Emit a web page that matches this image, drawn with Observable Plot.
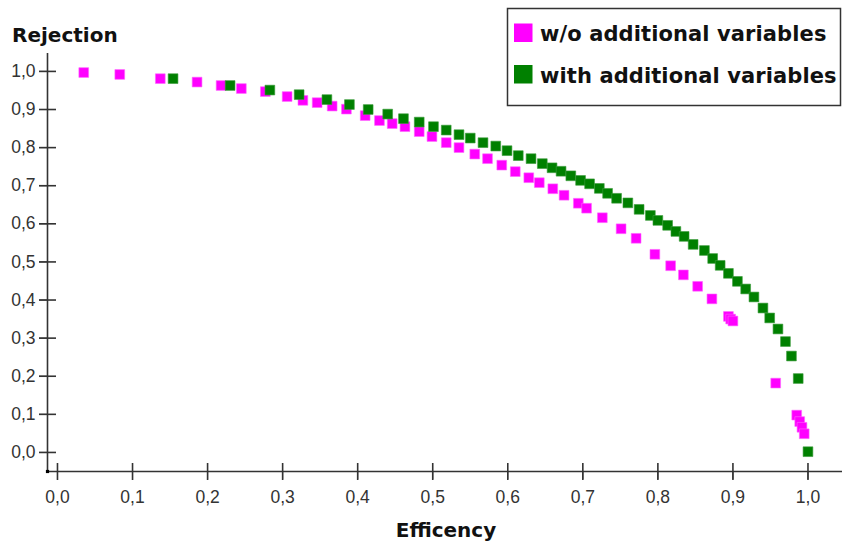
<!DOCTYPE html>
<html>
<head>
<meta charset="utf-8">
<script src="https://cdn.jsdelivr.net/npm/d3@7"></script>
<script src="https://cdn.jsdelivr.net/npm/@observablehq/plot@0.6"></script>
<style>
  html, body { margin: 0; padding: 0; background: #fff; }
  #chart { position: relative; width: 842px; height: 541px; overflow: hidden; }
</style>
</head>
<body>
<div id="chart"></div>
<script>
// ---- data ----
const xTicks = [0, 0.1, 0.2, 0.3, 0.4, 0.5, 0.6, 0.7, 0.8, 0.9, 1.0];
const yTicks = [0, 0.1, 0.2, 0.3, 0.4, 0.5, 0.6, 0.7, 0.8, 0.9, 1.0];

const seriesNames = ["w/o additional variables", "with additional variables"];
const seriesColors = ["#ff00ff", "#008000"];

// w/o additional variables (magenta)
const effWithout = [0.035, 0.083, 0.137, 0.186, 0.218, 0.245, 0.277, 0.306, 0.327, 0.346,
  0.366, 0.385, 0.410, 0.429, 0.446, 0.463, 0.482, 0.499, 0.518, 0.535,
  0.556, 0.573, 0.592, 0.610, 0.628, 0.642, 0.660, 0.675, 0.694, 0.705,
  0.726, 0.751, 0.771, 0.796, 0.817, 0.834, 0.853, 0.872, 0.894, 0.897,
  0.900, 0.957, 0.985, 0.989, 0.992, 0.995];
const rejWithout = [0.997, 0.992, 0.981, 0.972, 0.963, 0.955, 0.947, 0.934, 0.924, 0.918,
  0.909, 0.901, 0.884, 0.871, 0.863, 0.855, 0.842, 0.829, 0.813, 0.800,
  0.783, 0.771, 0.754, 0.737, 0.721, 0.708, 0.692, 0.675, 0.654, 0.641,
  0.616, 0.587, 0.562, 0.520, 0.490, 0.466, 0.436, 0.403, 0.357, 0.350,
  0.345, 0.182, 0.098, 0.081, 0.066, 0.049];

// with additional variables (green)
const effWith = [0.154, 0.230, 0.283, 0.322, 0.359, 0.389, 0.414, 0.440, 0.461, 0.482,
  0.501, 0.518, 0.535, 0.550, 0.567, 0.584, 0.599, 0.614, 0.631, 0.646,
  0.659, 0.671, 0.684, 0.697, 0.709, 0.722, 0.733, 0.745, 0.760, 0.775,
  0.790, 0.800, 0.813, 0.824, 0.835, 0.847, 0.862, 0.873, 0.883, 0.894,
  0.906, 0.917, 0.928, 0.940, 0.949, 0.960, 0.970, 0.978, 0.987, 1.000];
const rejWith = [0.981, 0.963, 0.951, 0.939, 0.926, 0.913, 0.900, 0.888, 0.876, 0.867,
  0.855, 0.846, 0.834, 0.825, 0.813, 0.804, 0.792, 0.779, 0.771, 0.758,
  0.747, 0.738, 0.726, 0.714, 0.705, 0.693, 0.680, 0.667, 0.655, 0.638,
  0.622, 0.609, 0.596, 0.580, 0.567, 0.546, 0.530, 0.509, 0.491, 0.470,
  0.449, 0.429, 0.408, 0.379, 0.353, 0.324, 0.291, 0.253, 0.194, 0.002];

// ---- build ----
const dataWithout = effWithout.map((x, i) => ({x, y: rejWithout[i]}));
const dataWith = effWith.map((x, i) => ({x, y: rejWith[i]}));

const xDomain = [-0.0133, 1.046];
const yDomain = [-0.05, 1.047];
const fmt = d => d.toFixed(1).replace(".", ",");

const vTick = {draw(ctx) { ctx.moveTo(0, -8.5); ctx.lineTo(0, 8.5); }};
const hTick = {draw(ctx) { ctx.moveTo(-8.5, 0); ctx.lineTo(8.5, 0); }};

const plot = Plot.plot({
  width: 842,
  height: 541,
  marginLeft: 47,
  marginRight: 0,
  marginTop: 53,
  marginBottom: 70,
  style: {fontFamily: "Liberation Sans, Arial, sans-serif", fontSize: "17.5px", color: "#333", background: "#fff", overflow: "visible"},
  x: {domain: xDomain, ticks: xTicks, tickFormat: fmt, tickSize: 8, tickPadding: 11, label: null},
  y: {domain: yDomain, ticks: yTicks, tickFormat: fmt, tickSize: 8, tickPadding: 4, label: null},
  marks: [
    Plot.ruleY([yDomain[0]], {stroke: "#333", strokeWidth: 1.6}),
    Plot.ruleX([xDomain[0]], {stroke: "#333", strokeWidth: 1.6}),
    Plot.dot(xTicks, {x: d => d, y: () => yDomain[0], symbol: vTick, stroke: "#333", strokeWidth: 1.6, fill: "none"}),
    Plot.dot(yTicks, {x: () => xDomain[0], y: d => d, symbol: hTick, stroke: "#333", strokeWidth: 1.6, fill: "none"}),
    Plot.dot([0], {x: () => xDomain[0], y: () => yDomain[0], symbol: "square", r: 1.8, fill: "#000"}),
    Plot.dot(dataWithout, {x: "x", y: "y", symbol: "square", r: 5.5, fill: seriesColors[0], stroke: "#ff66ff", strokeWidth: 0.6}),
    Plot.dot(dataWith, {x: "x", y: "y", symbol: "square", r: 5.5, fill: seriesColors[1], stroke: "#3a9a3a", strokeWidth: 0.6})
  ]
});

const svg = d3.select(plot);
// axis titles
svg.append("text").attr("x", 12).attr("y", 41.5).attr("text-anchor", "start")
  .attr("font-family", "DejaVu Sans").attr("font-weight", "bold").attr("font-size", 20)
  .attr("fill", "#111").text("Rejection");
svg.append("text").attr("x", 446).attr("y", 536.5).attr("text-anchor", "middle")
  .attr("font-family", "DejaVu Sans").attr("font-weight", "bold").attr("font-size", 20)
  .attr("fill", "#111").text("Efficency");

// legend
const lg = svg.append("g");
lg.append("rect").attr("x", 507.5).attr("y", 8.5).attr("width", 333).attr("height", 97)
  .attr("fill", "#fff").attr("stroke", "#333").attr("stroke-width", 1.5);
const rows = [{sy: 23.5, by: 41}, {sy: 65, by: 82.5}];
seriesNames.forEach((name, i) => {
  lg.append("rect").attr("x", 514).attr("y", rows[i].sy).attr("width", 18.5).attr("height", 18.5)
    .attr("fill", seriesColors[i]);
  lg.append("text").attr("x", 540).attr("y", rows[i].by).attr("text-anchor", "start")
    .attr("font-family", "DejaVu Sans").attr("font-weight", "bold").attr("font-size", 21)
    .attr("letter-spacing", "0.1px").attr("fill", "#111").text(name);
});

document.getElementById("chart").appendChild(plot);
</script>
</body>
</html>
